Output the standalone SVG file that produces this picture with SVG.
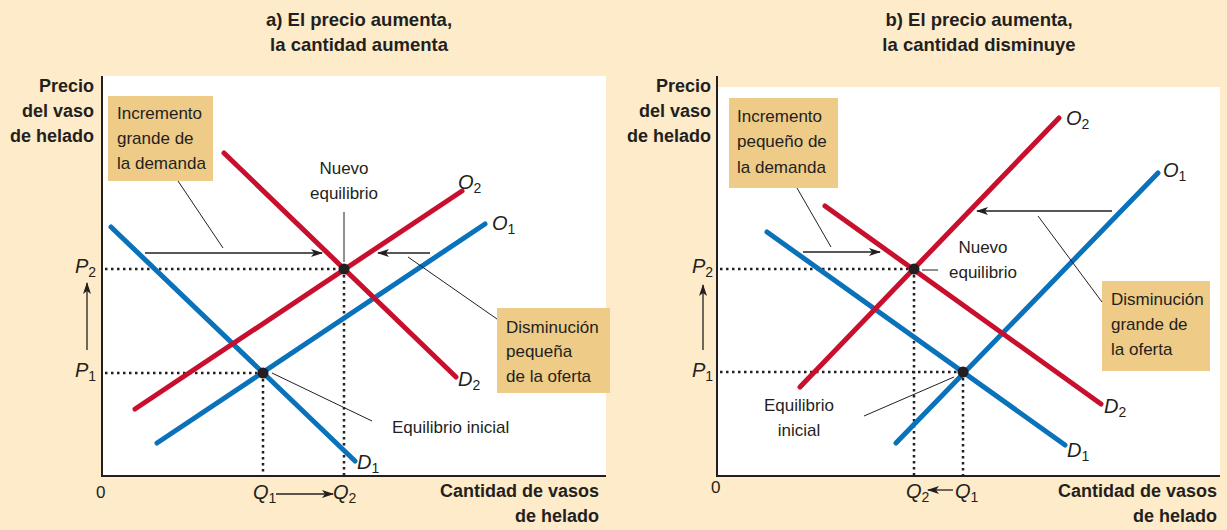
<svg xmlns="http://www.w3.org/2000/svg" width="1227" height="530" viewBox="0 0 1227 530">
<defs>
<style>
.t{font-family:"Liberation Sans",Arial,sans-serif;fill:#231f20;font-size:17px}
.b{font-weight:bold;font-size:18px}
.ttl{font-weight:bold;font-size:18.5px;text-anchor:middle}
.v{font-style:italic;font-size:20px}
.s{font-style:normal;font-size:14px}
.red{stroke:#c8102e;stroke-width:5;stroke-linecap:round;fill:none}
.blue{stroke:#0a72ba;stroke-width:5;stroke-linecap:round;fill:none}
.dot{stroke:#231f20;stroke-width:2.5;stroke-dasharray:2.5 3.5;fill:none}
.axis{stroke:#231f20;stroke-width:2;fill:none}
.lead{stroke:#231f20;stroke-width:1;fill:none}
.arr{stroke:#231f20;stroke-width:1.3;fill:none;marker-end:url(#ah)}
.box{fill:#eecb86}
.pt{fill:#231f20}
</style>
<marker id="ah" viewBox="0 0 12 8" refX="11" refY="4" markerWidth="12" markerHeight="8" markerUnits="userSpaceOnUse" orient="auto">
<path d="M0,0 L12,4 L0,8 L3,4 z" fill="#231f20"/>
</marker>
</defs>
<rect width="1227" height="530" fill="#feebc9"/>

<!-- Panel a -->
<g id="panel-a">
<rect x="102" y="76" width="504" height="400" fill="#ffffff"/>
<text class="t ttl" x="359" y="26">a) El precio aumenta,</text>
<text class="t ttl" x="359" y="51">la cantidad aumenta</text>
<g id="a-axes">
<path class="axis" d="M102,76 V476 H606"/>
<text class="t b" text-anchor="end" x="94" y="92">Precio</text>
<text class="t b" text-anchor="end" x="94" y="117">del vaso</text>
<text class="t b" text-anchor="end" x="94" y="142">de helado</text>
<text class="t b" text-anchor="end" x="599" y="497">Cantidad de vasos</text>
<text class="t b" text-anchor="end" x="599" y="522">de helado</text>
<text class="t" x="96" y="498" font-size="18">0</text>
</g>
<g id="a-dotted">
<path class="dot" d="M105,269 H344 M105,373 H263 M263,373 V476 M344,269 V476"/>
</g>
<g id="a-D1"><path class="blue" d="M111,227 L355,461"/><text class="t v" x="357" y="469">D<tspan class="s" dy="4">1</tspan></text></g>
<g id="a-O1"><path class="blue" d="M157,443 L485,224"/><text class="t v" x="492" y="230">O<tspan class="s" dy="4">1</tspan></text></g>
<g id="a-O2"><path class="red" d="M135,409 L462,191"/><text class="t v" x="458" y="189">O<tspan class="s" dy="4">2</tspan></text></g>
<g id="a-D2"><path class="red" d="M224,153 L456,377"/><text class="t v" x="458" y="386">D<tspan class="s" dy="4">2</tspan></text></g>
<g id="a-eq-new"><circle class="pt" cx="344" cy="269" r="5.5"/>
<text class="t" text-anchor="middle" x="344" y="174">Nuevo</text>
<text class="t" text-anchor="middle" x="344" y="199">equilibrio</text></g>
<g id="a-eq-init"><circle class="pt" cx="263" cy="373" r="5.5"/>
<text class="t" x="392" y="433">Equilibrio inicial</text></g>
<g id="a-P"><text class="t v" x="75" y="273">P<tspan class="s" dy="4">2</tspan></text>
<text class="t v" x="75" y="377">P<tspan class="s" dy="4">1</tspan></text></g>
<g id="a-Q"><text class="t v" x="253" y="499">Q<tspan class="s" dy="4">1</tspan></text>
<text class="t v" x="333" y="499">Q<tspan class="s" dy="4">2</tspan></text></g>
<g id="a-box-demand"><rect class="box" x="108" y="96" width="105" height="85"/>
<text class="t" x="117" y="119">Incremento</text>
<text class="t" x="117" y="144">grande de</text>
<text class="t" x="117" y="169">la demanda</text></g>
<g id="a-box-supply"><rect class="box" x="497" y="308" width="113" height="85"/>
<text class="t" x="506" y="333">Disminución</text>
<text class="t" x="506" y="357">pequeña</text>
<text class="t" x="506" y="382">de la oferta</text></g>
</g>

<!-- Panel b -->
<g id="panel-b">
<rect x="717" y="87" width="503" height="389" fill="#ffffff"/>
<text class="t ttl" x="979" y="26">b) El precio aumenta,</text>
<text class="t ttl" x="979" y="51">la cantidad disminuye</text>
<g id="b-axes">
<path class="axis" d="M717,76 V476 H1220"/>
<text class="t b" text-anchor="end" x="711" y="92">Precio</text>
<text class="t b" text-anchor="end" x="711" y="117">del vaso</text>
<text class="t b" text-anchor="end" x="711" y="142">de helado</text>
<text class="t b" text-anchor="end" x="1217" y="497">Cantidad de vasos</text>
<text class="t b" text-anchor="end" x="1217" y="522">de helado</text>
<text class="t" x="711" y="493" font-size="18">0</text>
</g>
<g id="b-dotted">
<path class="dot" d="M720,269 H914 M720,372 H963 M914,269 V476 M963,372 V476"/>
</g>
<g id="b-D1"><path class="blue" d="M767,232 L1065,445"/><text class="t v" x="1067" y="457">D<tspan class="s" dy="4">1</tspan></text></g>
<g id="b-O1"><path class="blue" d="M896,443 L1158,173"/><text class="t v" x="1163" y="177">O<tspan class="s" dy="4">1</tspan></text></g>
<g id="b-O2"><path class="red" d="M800,387 L1059,118"/><text class="t v" x="1066" y="125">O<tspan class="s" dy="4">2</tspan></text></g>
<g id="b-D2"><path class="red" d="M825,206 L1101,404"/><text class="t v" x="1104" y="413">D<tspan class="s" dy="4">2</tspan></text></g>
<g id="b-eq-new"><circle class="pt" cx="914" cy="269" r="5.5"/>
<text class="t" text-anchor="middle" x="983" y="253">Nuevo</text>
<text class="t" text-anchor="middle" x="983" y="278">equilibrio</text></g>
<g id="b-eq-init"><circle class="pt" cx="963" cy="372" r="5.5"/>
<text class="t" text-anchor="middle" x="799" y="411">Equilibrio</text>
<text class="t" text-anchor="middle" x="799" y="436">inicial</text></g>
<g id="b-P"><text class="t v" x="692" y="273">P<tspan class="s" dy="4">2</tspan></text>
<text class="t v" x="692" y="377">P<tspan class="s" dy="4">1</tspan></text></g>
<g id="b-Q"><text class="t v" x="906" y="498">Q<tspan class="s" dy="4">2</tspan></text>
<text class="t v" x="955" y="498">Q<tspan class="s" dy="4">1</tspan></text></g>
<g id="b-box-demand"><rect class="box" x="729" y="98" width="109" height="90"/>
<text class="t" x="737" y="122">Incremento</text>
<text class="t" x="737" y="147">pequeño de</text>
<text class="t" x="737" y="173">la demanda</text></g>
<g id="b-box-supply"><rect class="box" x="1102" y="281" width="108" height="90"/>
<text class="t" x="1111" y="305">Disminución</text>
<text class="t" x="1111" y="330">grande de</text>
<text class="t" x="1111" y="355">la oferta</text></g>
</g>

<!-- Connectors -->
<g id="connectors">
<path class="arr" d="M145,253 H322"/>
<path class="arr" d="M430,253 H378"/>
<path class="arr" d="M87,350 V283"/>
<path class="arr" d="M276,494 H333"/>
<path class="lead" d="M178,181 L223,248"/>
<path class="lead" d="M408,257 L497,319"/>
<path class="lead" d="M344,212 V262"/>
<path class="lead" d="M272,373 L372,421"/>
<path class="arr" d="M803,252 H880"/>
<path class="arr" d="M1112,211 H977"/>
<path class="arr" d="M703,350 V285"/>
<path class="arr" d="M953,490 H928"/>
<path class="lead" d="M797,188 L831,247"/>
<path class="lead" d="M1038,216 L1102,302"/>
<path class="lead" d="M922,270 H938"/>
<path class="lead" d="M864,416 L954,377"/>
</g>
</svg>
